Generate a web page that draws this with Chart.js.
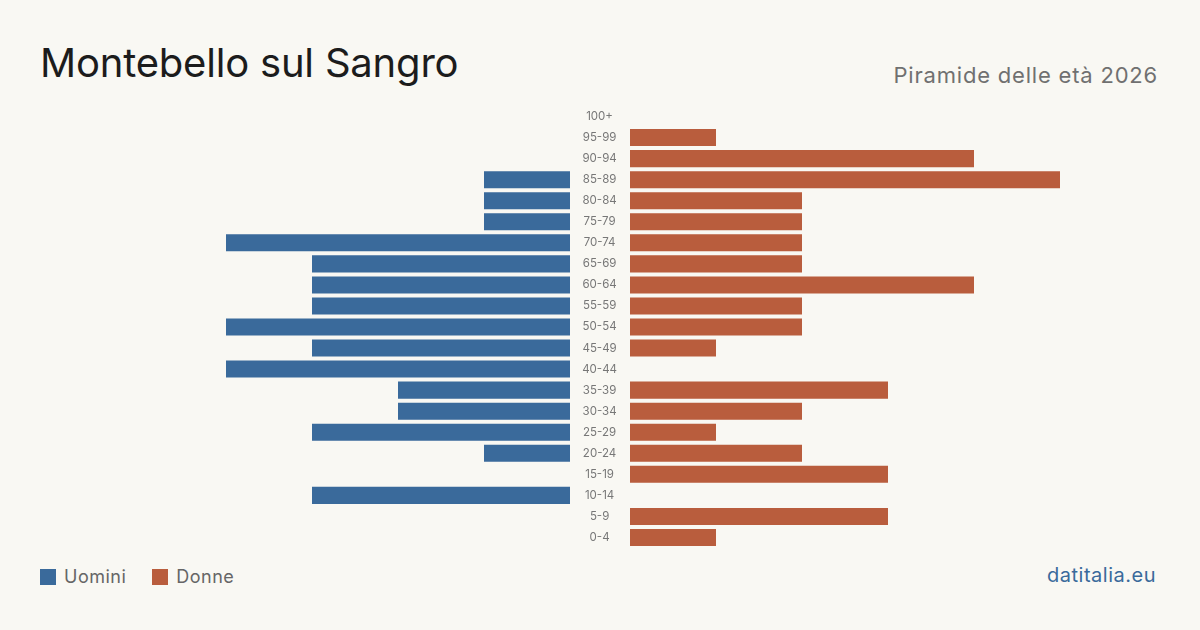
<!DOCTYPE html>
<html lang="it">
<head>
<meta charset="utf-8">
<script src="https://cdn.jsdelivr.net/npm/chart.js@4"></script>
<style>
    html, body { margin: 0; padding: 0; }
    body {
        width: 1200px; height: 630px; position: relative; overflow: hidden;
        background: #f9f8f3; font-family: 'Inter', sans-serif;
    }
    .title { position: absolute; left: 40px; top: 38px; font-size: 40px; color: #1c1c1c; letter-spacing: -0.2px; }
    .subtitle { position: absolute; right: 42px; top: 62px; font-size: 22px; color: #707070; letter-spacing: 0.8px; }
    canvas { position: absolute; }
    #chart-men { left: 140px; top: 106px; }
    #chart-women { left: 570px; top: 106px; }
    .legend { position: absolute; left: 40px; top: 566px; display: flex; align-items: center; font-size: 18px; color: #666; letter-spacing: 0.5px; }
    .legend .sw { width: 16px; height: 16px; margin-right: 8px; }
    .legend .item { display: flex; align-items: center; margin-right: 26px; }
    .source { position: absolute; right: 44px; top: 563px; font-size: 20px; color: #3a6a9b; letter-spacing: 0.5px; }
</style>
</head>
<body>
<div class="title">Montebello sul Sangro</div>
<div class="subtitle">Piramide delle età 2026</div>
<canvas id="chart-men" width="430" height="442"></canvas>
<canvas id="chart-women" width="490" height="442"></canvas>
<div class="legend">
    <div class="item"><span class="sw" style="background:#3a6a9b"></span>Uomini</div>
    <div class="item"><span class="sw" style="background:#b95d3d"></span>Donne</div>
</div>
<div class="source">datitalia.eu</div>

<script>
// classi di età, dall'alto verso il basso
const ageGroups = ['100+', '95-99', '90-94', '85-89', '80-84', '75-79', '70-74', '65-69', '60-64',
    '55-59', '50-54', '45-49', '40-44', '35-39', '30-34', '25-29', '20-24', '15-19', '10-14', '5-9', '0-4'];
const men =   [0, 0, 0, 1, 1, 1, 4, 3, 3, 3, 4, 3, 4, 2, 2, 3, 1, 0, 3, 0, 0];
const women = [0, 1, 4, 5, 2, 2, 2, 2, 4, 2, 2, 1, 0, 3, 2, 1, 2, 3, 0, 3, 1];
const maxValue = 5;

const MEN_COLOR = '#3a6a9b';
const WOMEN_COLOR = '#b95d3d';

/**
 * Crea una metà della piramide
 */
function makeSide(canvasId, values, color, reverse, showLabels) {
    const ctx = document.getElementById(canvasId).getContext('2d');
    return new Chart(ctx, {
        type: 'bar',
        data: {
            labels: ageGroups,
            datasets: [{
                data: values,
                backgroundColor: color,
                borderWidth: 0,
                barPercentage: 0.81,
                categoryPercentage: 1
            }]
        },
        options: {
            indexAxis: 'y',
            responsive: false,
            animation: false,
            devicePixelRatio: 1,
            layout: { padding: 0 },
            scales: {
                x: {
                    display: false,
                    min: 0,
                    max: maxValue,
                    reverse: reverse
                },
                y: {
                    display: showLabels,
                    grid: { display: false, drawTicks: false },
                    border: { display: false },
                    afterFit: scale => {
                        if (!showLabels) return;
                        // colonna centrale fissa, senza margini verticali
                        scale.width = 60;
                        scale.paddingTop = 0;
                        scale.paddingBottom = 0;
                    },
                    ticks: {
                        color: '#777',
                        padding: 13,
                        crossAlign: 'center',
                        font: { family: "'Inter', sans-serif", size: 11.5 }
                    }
                }
            },
            plugins: {
                legend: { display: false },
                tooltip: { enabled: false }
            }
        }
    });
}

makeSide('chart-men', men, MEN_COLOR, true, false);
makeSide('chart-women', women, WOMEN_COLOR, false, true);
</script>
</body>
</html>
